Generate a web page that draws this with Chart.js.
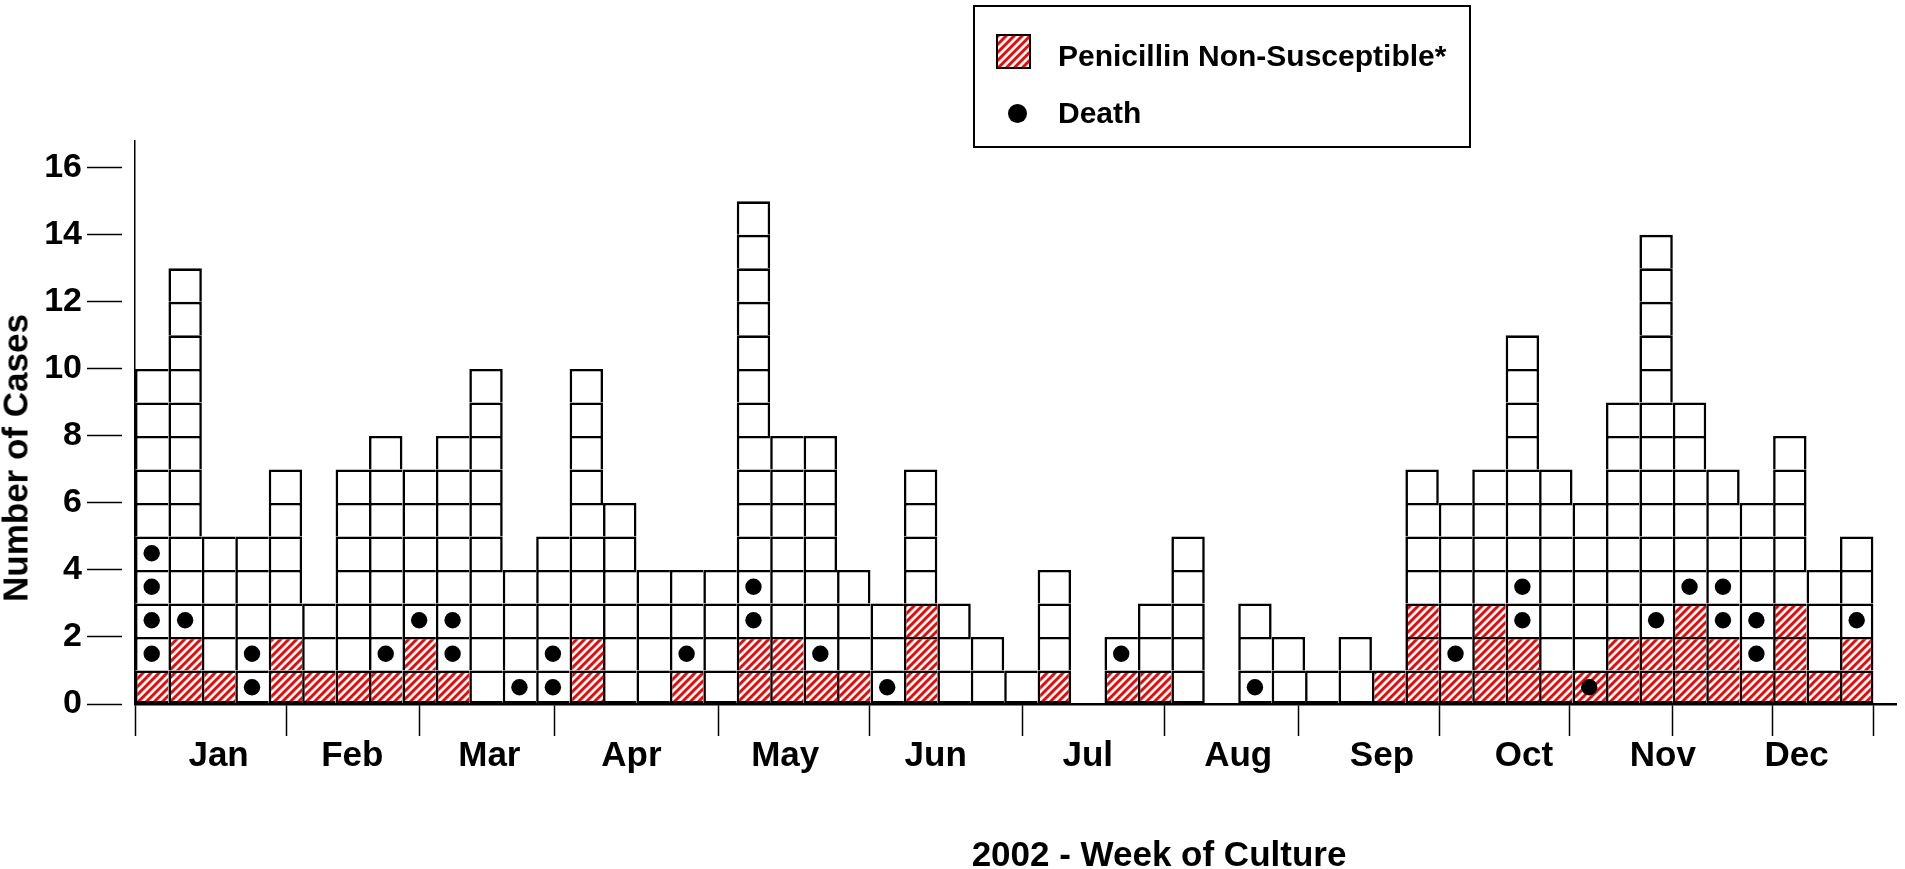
<!DOCTYPE html>
<html>
<head>
<meta charset="utf-8">
<script src="https://cdn.jsdelivr.net/npm/chart.js@4.4.1/dist/chart.umd.min.js"></script>
<style>
  html, body { margin: 0; padding: 0; background: #fff; }
  #wrap { position: relative; width: 1905px; height: 869px; overflow: hidden;
          font-family: "Liberation Sans", Arial, sans-serif; font-weight: bold; color: #000; }
  #wrap canvas { position: absolute; left: 0; top: 0; }
  .legend { position: absolute; left: 973px; top: 5px; width: 494px; height: 139px; border: 2px solid #000; }
  .legend .swatch { position: absolute; left: 21px; top: 27px; width: 31px; height: 31px; border: 2px solid #000; }
  .legend .dot { position: absolute; left: 33px; top: 97px; width: 19px; height: 19px; border-radius: 50%; background: #000; }
  .legend .txt { position: absolute; left: 83px; height: 40px; line-height: 40px; font-size: 30px; white-space: nowrap; }
  .title { position: absolute; font-size: 35px; line-height: 35px; white-space: nowrap; transform: translate(-50%, -50%); }
  .title.y { transform: translate(-50%, -50%) rotate(-90deg); }
</style>
</head>
<body>
<div id="wrap">
  <canvas id="chart" width="1905" height="869"></canvas>
  <div class="legend">
    <span class="swatch" id="swatch"></span>
    <span class="txt" style="top:29px">Penicillin Non-Susceptible*</span>
    <span class="dot"></span>
    <span class="txt" style="top:86px">Death</span>
  </div>
  <div class="title y" style="left:15px; top:458px">Number of Cases</div>
  <div class="title" style="left:1159px; top:853px">2002 - Week of Culture</div>
</div>
<script>
// cases per week of culture, weeks 1-52 of 2002
const weekCases = [10, 13, 5, 5, 7, 3, 7, 8, 7, 8, 10, 4, 5, 10, 6, 4, 4, 4, 15, 8,
                   8, 4, 3, 7, 3, 2, 1, 4, 0, 2, 3, 5, 0, 3, 2, 1, 2, 1, 7, 6,
                   7, 11, 7, 6, 9, 14, 9, 7, 6, 8, 4, 5];
const penNonSusceptible = [1, 2, 1, 0, 2, 1, 1, 1, 2, 1, 0, 0, 0, 2, 0, 0, 1, 0, 2, 2,
                           1, 1, 0, 3, 0, 0, 0, 1, 0, 1, 1, 0, 0, 0, 0, 0, 0, 1, 3, 1,
                           3, 2, 1, 1, 2, 2, 3, 2, 1, 3, 1, 2];
// one entry per death: the week, and which case box (from the bottom) holds the dot
const deathWeek = [1, 1, 1, 1, 2, 4, 4, 8, 9, 10, 10, 12, 13, 13, 17, 19, 19, 21, 23, 30,
                   34, 40, 42, 42, 44, 46, 47, 48, 48, 49, 49, 52];
const deathBox = [2, 3, 4, 5, 3, 1, 2, 2, 3, 2, 3, 1, 1, 2, 2, 3, 4, 2, 1, 2,
                  1, 2, 3, 4, 1, 3, 4, 3, 4, 2, 3, 3];
const monthNames = ["Jan", "Feb", "Mar", "Apr", "May", "Jun", "Jul", "Aug", "Sep", "Oct", "Nov", "Dec"];
// month tick marks and month label centres, in weeks
const monthEdges = [0, 4.53, 8.5, 12.55, 17.46, 21.98, 26.56, 30.8, 34.81, 39.03, 42.92, 45.98, 48.99, 52];
const monthMids = [2.5, 6.5, 10.6, 14.85, 19.45, 23.95, 28.5, 33.0, 37.3, 41.55, 45.7, 49.7];
const yTicks = [0, 2, 4, 6, 8, 10, 12, 14, 16];

const LINE = 2.6;

function hatchTile() {
  const s = 8;
  const c = document.createElement("canvas");
  c.width = s; c.height = s;
  const g = c.getContext("2d");
  g.fillStyle = "#fff";
  g.fillRect(0, 0, s, s);
  g.strokeStyle = "#ff0000";
  g.lineWidth = 2.9;
  g.beginPath();
  g.moveTo(-1, 1); g.lineTo(1, -1);
  g.moveTo(0, s); g.lineTo(s, 0);
  g.moveTo(s - 1, s + 1); g.lineTo(s + 1, s - 1);
  g.stroke();
  return c;
}

const canvas = document.getElementById("chart");
const tile = hatchTile();
const hatch = canvas.getContext("2d").createPattern(tile, "repeat");
document.getElementById("swatch").style.background = "url(" + tile.toDataURL() + ")";

Chart.defaults.font.family = "'Liberation Sans', Arial, sans-serif";
Chart.defaults.font.weight = "bold";
Chart.defaults.color = "#000";

// one stacked dataset per box level, so each case is its own square
const datasets = [];
const levels = Math.max(...weekCases);
for (let k = 1; k <= levels; k++) {
  datasets.push({
    type: "bar",
    label: "case " + k,
    data: weekCases.map((n, i) => ({ x: i + 0.5, y: n >= k ? 1 : null })),
    backgroundColor: c => (penNonSusceptible[c.dataIndex] >= k ? hatch : "#fff"),
    borderColor: "#000",
    borderWidth: c => {
      const i = c.dataIndex || 0;
      const next = i + 1 < weekCases.length ? weekCases[i + 1] : 0;
      return { top: LINE, left: LINE, bottom: k === 1 ? LINE : 0, right: next < k ? LINE : 0 };
    },
    borderSkipped: false,
    inflateAmount: 0,
    barPercentage: 1,
    categoryPercentage: 1,
    yAxisID: "y"
  });
}
datasets.push({
  type: "scatter",
  label: "Death",
  data: deathWeek.map((w, j) => ({ x: w - 0.5, y: deathBox[j] - 0.5 })),
  yAxisID: "yd",
  pointRadius: 8.2,
  pointHoverRadius: 8.2,
  pointBackgroundColor: "#000",
  pointBorderWidth: 0,
  order: -1
});

new Chart(canvas, {
  type: "bar",
  data: { datasets },
  options: {
    responsive: false,
    devicePixelRatio: 1,
    animation: false,
    events: [],
    layout: { padding: { top: 141, left: 0, right: 0, bottom: 0 } },
    plugins: { legend: { display: false }, tooltip: { enabled: false } },
    scales: {
      x: {
        type: "linear", min: 0, max: 52.7, offset: false, stacked: true, weight: 0,
        afterBuildTicks: s => { s.ticks = monthEdges.map(v => ({ value: v })); },
        afterFit: s => { s.height = 32; },
        grid: { display: true, offset: false, drawOnChartArea: false, drawTicks: true,
                tickLength: 32, tickColor: "#000", tickWidth: 1.5 },
        border: { display: true, color: "#000", width: 2.4 },
        ticks: { autoSkip: false, maxRotation: 0, minRotation: 0, callback: () => "" }
      },
      x2: {
        type: "linear", position: "bottom", min: 0, max: 52.7, offset: false, weight: 1,
        afterBuildTicks: s => { s.ticks = monthMids.map(v => ({ value: v })); },
        afterFit: s => { s.height = 133; },
        grid: { display: false, offset: false },
        border: { display: false },
        ticks: { autoSkip: false, maxRotation: 0, minRotation: 0, padding: -9,
                 font: { size: 35, weight: "bold" },
                 callback: (v, i) => monthNames[i] }
      },
      y: {
        type: "linear", min: 0, max: 16.8, stacked: true,
        afterBuildTicks: s => { s.ticks = yTicks.map(v => ({ value: v })); },
        afterFit: s => { s.width = 135; },
        grid: { display: true, drawOnChartArea: false, drawTicks: true, tickLength: 48,
                tickColor: "#000", tickWidth: 1.5, tickBorderDash: [35, 30] },
        border: { display: true, color: "#000", width: 1.5 },
        ticks: { padding: 5, font: { size: 34, weight: "bold" } }
      },
      yd: { type: "linear", min: 0, max: 16.8, display: false }
    }
  }
});
</script>
</body>
</html>
